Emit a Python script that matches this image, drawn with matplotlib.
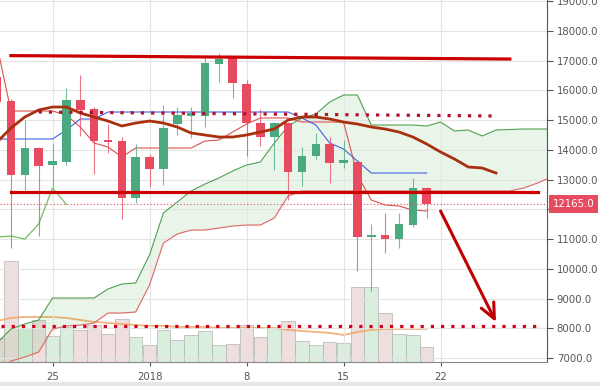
import matplotlib
matplotlib.use('Agg')
import matplotlib.pyplot as plt
import matplotlib.dates as mdates
from matplotlib.patches import Rectangle
import pandas as pd

# BTC/USD, daily candles 21.12.2017 - 21.01.2018
dates = pd.date_range('2017-12-21', '2018-01-21', freq='D')
opens = [16446, 15639, 13152, 14059, 13488, 13589, 15673, 15370, 14328, 14294, 12379,
         13757, 13353, 14866, 15150, 15135, 16883, 17118, 16210, 14899, 14429, 14899,
         13253, 13790, 14194, 13570, 13589, 11067, 11135, 11000, 11471, 12715]
highs = [16600, 15706, 15000, 14100, 14227, 16076, 16513, 15437, 14866, 14429, 14194,
         13858, 15505, 15437, 15437, 17084, 17252, 17150, 16345, 15370, 14950, 14950,
         14093, 14563, 14429, 14328, 13650, 11505, 11874, 11874, 13051, 12750]
lows = [15500, 10698, 12648, 11101, 12749, 13500, 14463, 13186, 13891, 11673, 12211,
        12749, 12816, 14496, 14400, 14765, 16278, 15740, 13800, 14126, 13320, 12312,
        12782, 13700, 12883, 13387, 9925, 9253, 10530, 10698, 11400, 11706]
closes = [15605, 13152, 14059, 13454, 13622, 15673, 15337, 14294, 14261, 12379, 13757,
          13353, 14731, 15168, 15200, 16916, 17051, 16244, 14899, 14429, 14899, 13253,
          13790, 14194, 13555, 13620, 11067, 11101, 11000, 11505, 12715, 12165]
volume = [24, 101, 34, 42, 26, 35, 32, 37, 28, 43, 25, 17, 32, 22, 27, 31, 17, 18, 37,
          25, 34, 41, 21, 17, 20, 19, 75, 75, 49, 28, 27, 15]
volume_ma = [41, 44, 45, 45, 45, 44, 42, 40, 39, 38, 37, 36, 36, 35, 35, 35, 34, 34, 34,
             34, 34, 32, 31, 30, 29, 27, 30, 32, 33, 33, 33, 33]

# ишимоку
tenkan = [17488, 15303, 15303, 15303, 15303, 15168, 14765, 14227, 14093, 13757, 14059,
          14059, 14059, 14059, 14059, 14294, 14328, 14597, 14866, 15068, 15068, 15068,
          14933, 14933, 14933, 14933, 13152, 12312, 12144, 12110, 11975, 11941]
kijun = [14362, 14362, 14362, 14362, 14362, 14664, 15034, 15034, 15269, 15269, 15269,
         15269, 15269, 15269, 15269, 15269, 15269, 15269, 15269, 15269, 15269, 15269,
         15068, 14832, 14227, 14026, 13622, 13219, 13219, 13219, 13219, 13219]
cloud_dates = pd.date_range('2017-12-21', '2018-01-30', freq='D')
span_a = [7505, 7976, 8144, 8278, 9018, 9018, 9018, 9018, 9320, 9488, 9522,
          10463, 11874, 12245, 12614, 12849, 13051, 13286, 13488, 13589, 14227, 14799,
          15068, 15202, 15605, 15841, 15841, 14832, 14832, 14832, 14832, 14799, 14933,
          14631, 14664, 14463, 14664, 14681, 14698, 14698, 14698]
span_b = [6560, 6900, 7035, 7203, 7976, 8077, 8110, 8177, 8514, 8514, 8547,
          9455, 10866, 11168, 11303, 11303, 11370, 11437, 11471, 11471, 11706, 12446,
          12614, 12614, 12614, 12614, 12614, 12614, 12614, 12614, 12614, 12614, 12614,
          12614, 12614, 12614, 12614, 12614, 12715, 12883, 13085]
lag = 26

# скользящая (коричневая)
ma_dates = pd.date_range('2017-12-21', '2018-01-26', freq='D')
ma = [14261, 14731, 15101, 15337, 15437, 15437, 15236, 15101, 14966, 14799, 14899,
      14966, 14899, 14765, 14563, 14496, 14429, 14429, 14496, 14597, 14698, 15000,
      15101, 15101, 15034, 14933, 14866, 14765, 14698, 14597, 14429, 14194, 13925,
      13690, 13421, 13387, 13219]

# разметка
top_dates, top_prices = ['2017-12-22', '2018-01-27'], [17165, 17050]
sup_dates, sup_prices = ['2017-12-22', '2018-01-29'], [12580, 12580]
res_dates, res_prices = ['2017-12-24', '2018-01-26'], [15269, 15135]
low_dates, low_prices = ['2017-12-21 06:00', '2018-01-29'], [8076, 8076]
arrow_dates, arrow_prices = ['2018-01-22', '2018-01-26'], [11941, 8210]
last_price = 12165

tick_dates = ['2017-12-25', '2018-01-01', '2018-01-08', '2018-01-15', '2018-01-22']
tick_labels = ['25', '2018', '8', '15', '22']

RED = '#e84a5f'
GREEN = '#4aa97f'

def num(d):
    return mdates.date2num(pd.to_datetime(d))

x = mdates.date2num(dates)
xc = mdates.date2num(cloud_dates)

fig = plt.figure(figsize=(6, 3.86), dpi=100)
rect = [0, 24 / 386, 547 / 600, 362 / 386]
vax = fig.add_axes(rect)
ax = fig.add_axes(rect, facecolor='none')

d0 = num('2017-12-25')
for a in (vax, ax):
    a.set_xlim(d0 - 3.79, d0 + 35.68)

#----------------------------------------------------------
# объёмы
up = [c >= o for o, c in zip(opens, closes)]
vcol = ['#d4ecd9' if u else '#ecd9d9' for u in up]
vax.bar(x, volume, width=0.98, color=vcol, edgecolor='#b4b4b4', linewidth=0.6, alpha=0.85)
vax.plot(x, volume_ma, color='#f4a460', lw=1.3, alpha=0.85)
vax.set_ylim(0, max(volume) * 3.58)
vax.axis('off')

#----------------------------------------------------------
# цена
ax.set_ylim(6867, 19034)
ax.set_yticks(range(7000, 19001, 1000))
ax.yaxis.set_major_formatter(matplotlib.ticker.FormatStrFormatter('%.1f'))
ax.yaxis.tick_right()
ax.set_xticks([num(d) for d in tick_dates])
ax.set_xticklabels(tick_labels)
ax.tick_params(axis='y', length=4, pad=3, labelsize=7.3, colors='#555555')
ax.tick_params(axis='x', length=3, pad=4, labelsize=7.3, colors='#555555')
ax.grid(True, color='#e4e4e4', lw=0.8, zorder=0)
for s in ('left', 'top'):
    ax.spines[s].set_visible(False)
ax.spines['right'].set_color('#555555')
ax.spines['bottom'].set_color('#888888')

# облако
ax.fill_between(xc, span_a, span_b, color='#5cb85c', alpha=0.13, lw=0, zorder=1)
ax.plot(xc, span_a, color='#4e9f4e', lw=0.8, zorder=2)
ax.plot(xc, span_b, color='#e06666', lw=0.8, zorder=2)
ax.plot(x, tenkan, color='#d9534f', lw=0.8, zorder=3)
ax.plot(x, kijun, color='#4060e0', lw=0.8, zorder=3)
ax.plot(x[:len(closes) - lag], closes[lag:], color='#6fbf5f', lw=0.9, zorder=3)

# свечи
for xi, o, h, l, c, u in zip(x, opens, highs, lows, closes, up):
    col = GREEN if u else RED
    ax.vlines(xi, l, h, color=col, lw=0.8, alpha=0.75, zorder=4)
    body = max(abs(c - o), 70)
    ax.bar(xi, body, bottom=min(o, c), width=0.62, color=col, lw=0, zorder=4)

ax.plot(mdates.date2num(ma_dates), ma, color='#a8300f', lw=2.0, zorder=5)

# уровни
ax.plot([num(d) for d in res_dates], res_prices, color='#b0102a', lw=2.3,
        linestyle=(0, (1, 2.2)), zorder=6)
ax.plot([num(d) for d in low_dates], low_prices, color='#d0021b', lw=2.3,
        linestyle=(0, (1, 2.2)), zorder=6)
ax.axhline(last_price, color='#e05060', lw=0.8, linestyle=(0, (1, 2)), zorder=6)
ax.plot([num(d) for d in top_dates], top_prices, color='#cc0000', lw=2.3, zorder=7)
ax.plot([num(d) for d in sup_dates], sup_prices, color='#cc0000', lw=2.3, zorder=7)
ax.annotate('', xy=(num(arrow_dates[1]), arrow_prices[1]),
            xytext=(num(arrow_dates[0]), arrow_prices[0]),
            arrowprops=dict(arrowstyle='->,head_length=1.1,head_width=0.5',
                            color='#c00000', lw=2.2, shrinkA=0, shrinkB=0), zorder=8)

ax.annotate('%.1f' % last_price, xy=(1, last_price), xycoords=('axes fraction', 'data'),
            xytext=(4, 0), textcoords='offset points', ha='left', va='center',
            fontsize=7.3, color='white', annotation_clip=False,
            bbox=dict(boxstyle='square,pad=0.4', fc=RED, ec='none'))

fig.patches.append(Rectangle((0, 0), 1, 4 / 386, transform=fig.transFigure,
                             color='#e6e6e6', zorder=0))

fig.savefig('out.png', dpi=100)
